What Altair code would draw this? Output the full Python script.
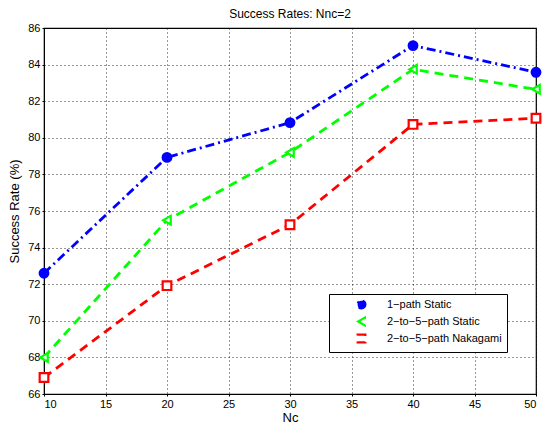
import altair as alt
import pandas as pd

nc = [10, 20, 30, 40, 50]
series_names = ["1\u2212path Static", "2\u2212to\u22125\u2212path Static", "2\u2212to\u22125\u2212path Nakagami"]
s1 = [72.6, 78.93, 80.83, 85.04, 83.58]
s2 = [68.0, 75.5, 79.2, 83.74, 82.65]
s3 = [66.9, 71.92, 75.25, 80.73, 81.07]

rows = []
for name, vals in zip(series_names, [s1, s2, s3]):
    for x, y in zip(nc, vals):
        rows.append({"Nc": x, "rate": y, "series": name})
df = pd.DataFrame(rows)

colors = ["#0000ff", "#00ff00", "#ff0000"]
fills = ["#0000ff", "#ffffff", "#ffffff"]
shapes = ["circle", "triangle-left", "square"]
dashes = [[9, 4, 2, 4], [9, 6], [9, 6]]

font = "Liberation Sans"

color_enc = alt.Color("series:N", scale=alt.Scale(domain=series_names, range=colors), title=None,
                      legend=alt.Legend(orient="none", legendX=285, legendY=266,
                                        strokeColor="black", fillColor="white", padding=5,
                                        labelFont=font, labelFontSize=11, labelColor="black",
                                        symbolSize=60, symbolStrokeWidth=2.2, rowPadding=0,
                                        labelLimit=200, symbolOffset=22, labelOffset=20))

base = alt.Chart(df).encode(
    x=alt.X("Nc:Q", scale=alt.Scale(domain=[10, 50], nice=False),
            axis=alt.Axis(values=list(range(10, 51, 5)), title="Nc")),
    y=alt.Y("rate:Q", scale=alt.Scale(domain=[66, 86], nice=False),
            axis=alt.Axis(values=list(range(66, 87, 2)), title="Success Rate (%)")),
)

lines = base.mark_line(strokeWidth=2.8).encode(
    color=color_enc,
    strokeDash=alt.StrokeDash("series:N", scale=alt.Scale(domain=series_names, range=dashes), legend=None),
)

points = base.mark_point(size=75, strokeWidth=2.2, opacity=1).encode(
    color=color_enc,
    shape=alt.Shape("series:N", scale=alt.Scale(domain=series_names, range=shapes), title=None),
    fill=alt.Fill("series:N", scale=alt.Scale(domain=series_names, range=fills), title=None),
)

chart = (lines + points).properties(
    width=537, height=416,
    autosize=alt.AutoSizeParams(type="fit", contains="padding"),
    padding={"left": 0, "top": 0, "right": 0, "bottom": 0},
    title=alt.Title("Success Rates: Nnc=2", font=font, fontSize=12, fontWeight="normal", color="black", offset=1),
).configure_view(stroke="black", strokeWidth=1.2).configure_axis(
    labelFont=font, labelFontSize=11, labelColor="black",
    titleFont=font, titleFontSize=13, titleFontWeight="normal", titleColor="black",
    domainColor="black", tickColor="black", tickSize=2, labelPadding=2,
    gridColor="black", gridDash=[1, 3], gridOpacity=0.8, gridWidth=1,
).configure_axisY(titlePadding=6).configure_axisX(titlePadding=2)

chart.save("out.html", embed_options={"renderer": "svg", "actions": False})
